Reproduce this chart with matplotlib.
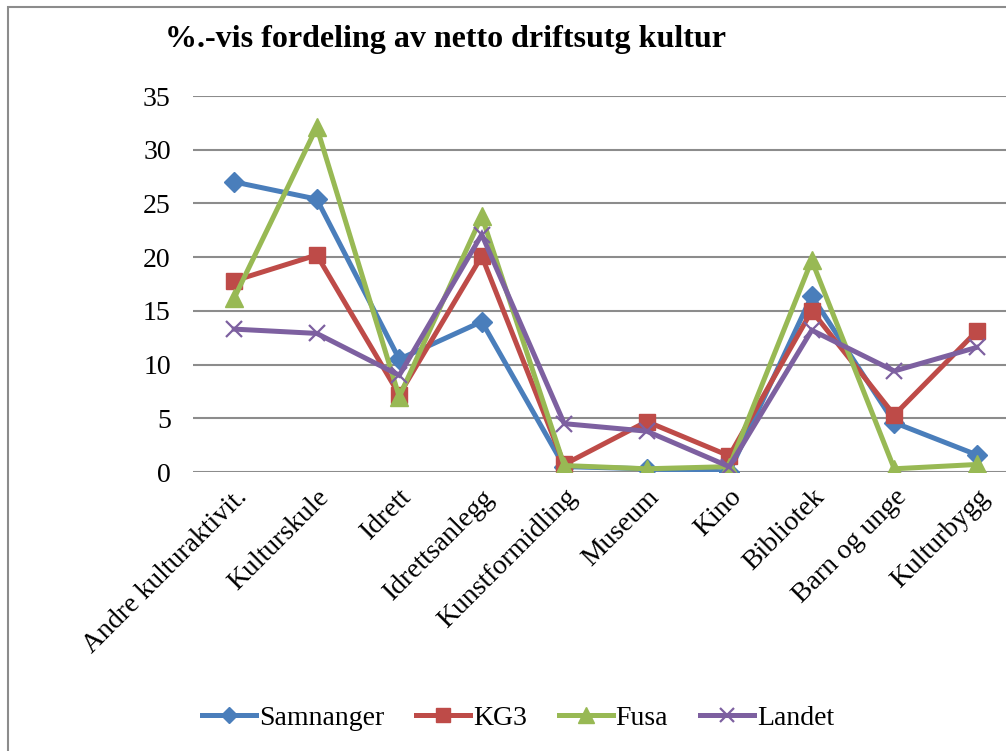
import numpy as np
import matplotlib.pyplot as plt
from matplotlib.patches import Rectangle

plt.rcParams['font.family'] = ['Liberation Serif', 'DejaVu Serif']

categories = ['Andre kulturaktivit.', 'Kulturskule', 'Idrett', 'Idrettsanlegg',
              'Kunstformidling', 'Museum', 'Kino', 'Bibliotek', 'Barn og unge',
              'Kulturbygg']

samnanger = [27.0, 25.4, 10.5, 14.0, 0.5, 0.3, 0.0, 16.4, 4.6, 1.6]
kg3 = [17.8, 20.2, 7.2, 20.1, 0.7, 4.7, 1.5, 15.0, 5.3, 13.1]
fusa = [16.2, 32.1, 7.0, 23.8, 0.6, 0.3, 0.5, 19.7, 0.3, 0.7]
landet = [13.3, 12.9, 9.0, 22.1, 4.5, 3.8, 0.5, 13.2, 9.4, 11.6]

series = [
    ('Samnanger', samnanger, '#4A7EBB', 'D', 10),
    ('KG3', kg3, '#BE4B48', 's', 12),
    ('Fusa', fusa, '#98B954', '^', 13),
    ('Landet', landet, '#7D60A0', 'x', 12),
]

fig = plt.figure(figsize=(10.06, 7.51), dpi=100)
# chart frame
fig.patches.append(Rectangle((8 / 1006, -0.1), 1.2, 1 - 7 / 751 + 0.1,
                             transform=fig.transFigure, fill=False,
                             edgecolor='#8c8c8c', lw=1.5))

ax = fig.add_axes([193 / 1006, 1 - 472 / 751, 825 / 1006, 376 / 751])
x = np.arange(len(categories))
for name, vals, col, mk, ms in series:
    ax.plot(x, vals, color=col, lw=3.6, marker=mk, markersize=ms,
            markeredgecolor=col, markeredgewidth=1.6 if mk == 'x' else 1,
            label=name, solid_joinstyle='miter')

ax.set_xlim(-0.5, 9.5)
ax.set_ylim(0, 35)
ax.set_yticks(range(0, 36, 5))
ax.yaxis.grid(True, color='#8c8c8c', lw=1.5)
ax.set_axisbelow(True)
for s in ax.spines.values():
    s.set_visible(False)
ax.tick_params(axis='y', length=0, pad=16, labelsize=20)
ax.tick_params(axis='x', length=0, pad=9, labelsize=20)
ax.set_xticks(x)
ax.set_xticklabels(categories, rotation=45, ha='right', rotation_mode='anchor')

fig.text(165 / 1006, 1 - 40 / 751, '%.-vis fordeling av netto driftsutg kultur',
         fontsize=23, fontweight='bold', va='center', ha='left')

fig.legend(loc='center', bbox_to_anchor=(518 / 1006, 1 - 718 / 751), ncol=4,
           frameon=False, fontsize=20, handlelength=1.95, columnspacing=1.15,
           handletextpad=0.1, markerscale=0.85)

fig.savefig('out.png', dpi=100)
